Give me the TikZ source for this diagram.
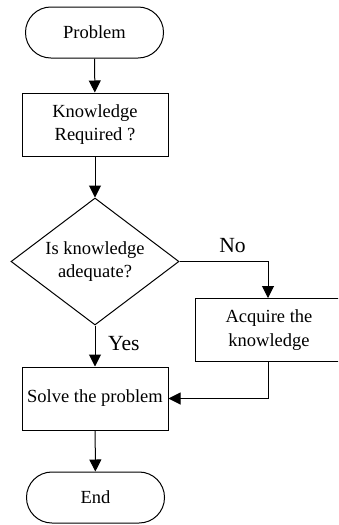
\documentclass[tikz,border=0pt]{standalone}
\usepackage{fontspec}
\setmainfont{Liberation Serif}
\usepackage{tikz}
\usetikzlibrary{arrows.meta, shapes.geometric}

\begin{document}
\begin{tikzpicture}[
    x=0.5pt, y=-0.5pt,
    term/.style={rectangle, rounded corners=12.7pt, minimum width=69pt, minimum height=25.5pt, draw=black, line width=0.5pt, text centered, font=\fontsize{9.25}{11.6}\selectfont},
    stepbox/.style={rectangle, minimum width=73pt, minimum height=31.5pt, draw=black, line width=0.5pt, text centered, inner sep=1pt, font=\fontsize{9.25}{11.6}\selectfont, align=center},
    decision/.style={diamond, aspect=1.32, inner sep=0pt, minimum width=84pt, minimum height=63.5pt, draw=black, line width=0.5pt, font=\fontsize{9.25}{11.6}\selectfont, align=center},
    lbl/.style={font=\fontsize{10.8}{13}\selectfont},
    arr/.style={-{Triangle[length=6pt, width=6pt]}, line width=0.5pt, color=black}
]
    \useasboundingbox (0,0) rectangle (338,525);
    \clip (0,0) rectangle (338,525);

    % Main column
    \node[term] (start) at (94.5, 32.5) {Problem};
    \node[stepbox] (know) at (95, 124.5) {Knowledge\\Required ?};
    \node[decision] (check) at (95, 261.5) {Is knowledge\\adequate?};
    \node[stepbox] (solve) at (95, 398.5) {Solve the problem};
    \node[term] (finish) at (95.5, 497.5) {End};

    % Side branch (right edge runs off the page)
    \node[stepbox, minimum width=74pt] (acq) at (269, 330) {Acquire the\\knowledge};

    \draw[arr] (start) -- (know);
    \draw[arr] (know) -- (check);
    \draw[arr] (check) -- node[lbl, right, xshift=3pt, yshift=1pt] {Yes} (solve);
    \draw[arr] (check.east) -| node[lbl, pos=0.3, above, yshift=1pt] {No} ([xshift=-0.5pt]acq.north);
    \draw[arr] ([xshift=-0.5pt]acq.south) |- (solve.east);
    \draw[arr] (solve) -- (finish);
\end{tikzpicture}
\end{document}
